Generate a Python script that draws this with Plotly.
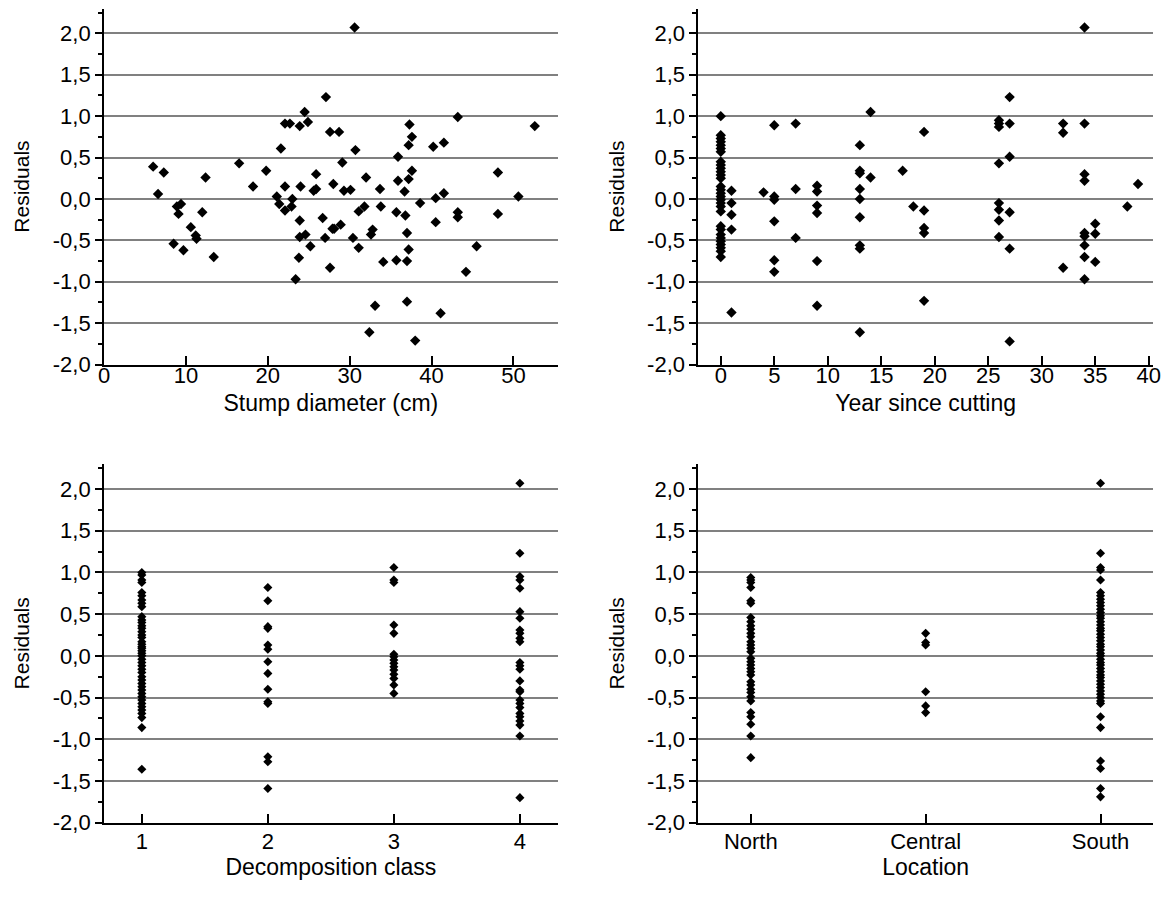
import plotly.graph_objects as go

# ---------------- data ----------------
diam_x = [6.0, 7.3, 6.6, 12.4, 16.5, 18.2, 19.8, 21.1, 21.6, 22.1, 22.7, 22.1, 23.0, 23.9, 24.0,
          24.5, 24.9, 25.6, 25.9, 25.9, 27.1, 27.6, 28.0, 30.6, 28.7, 30.7, 29.1, 29.3, 30.1, 32.0,
          33.7, 35.9, 37.3, 37.6, 37.2, 35.9, 37.2, 37.6, 36.7, 40.2, 41.5, 43.2, 41.5, 40.5, 48.1,
          50.6, 52.6, 8.9, 9.4, 9.1, 12.0, 10.6, 11.2, 11.3, 8.5, 9.7, 13.4, 21.4, 22.1, 22.9,
          23.9, 23.9, 24.6, 25.2, 26.7, 27.0, 23.8, 23.4, 27.6, 27.9, 38.6, 31.1, 31.8, 33.8, 35.7,
          36.8, 40.5, 43.2, 43.2, 48.1, 28.1, 28.9, 30.4, 32.8, 32.6, 37.0, 31.1, 37.2, 45.5, 34.1,
          35.7, 37.0, 44.2, 33.1, 37.0, 41.1, 32.4, 38.0]
diam_res = [0.39, 0.32, 0.06, 0.26, 0.43, 0.15, 0.34, 0.03, 0.61, 0.91, 0.91, 0.15, 0.00, 0.88, 0.15,
            1.05, 0.93, 0.10, 0.12, 0.30, 1.23, 0.81, 0.18, 2.07, 0.81, 0.59, 0.44, 0.10, 0.11, 0.26,
            0.12, 0.51, 0.90, 0.75, 0.65, 0.22, 0.24, 0.34, 0.09, 0.63, 0.68, 0.99, 0.07, 0.01, 0.32,
            0.03, 0.88, -0.09, -0.06, -0.18, -0.16, -0.34, -0.44, -0.48, -0.54, -0.62, -0.70, -0.06, -0.14, -0.09,
            -0.26, -0.46, -0.43, -0.57, -0.23, -0.47, -0.71, -0.97, -0.83, -0.36, -0.05, -0.15, -0.09, -0.09, -0.16,
            -0.20, -0.28, -0.16, -0.22, -0.18, -0.36, -0.31, -0.47, -0.37, -0.43, -0.41, -0.59, -0.61, -0.57, -0.76,
            -0.74, -0.75, -0.88, -1.29, -1.24, -1.38, -1.61, -1.71]

year_x = ([0] * 30 + [1] * 5 + [4] + [5] * 6 + [7] * 3 + [9] * 6 + [13] * 9 + [14] * 2 + [17] + [18]
          + [19] * 5 + [26] * 8 + [27] * 6 + [32] * 3 + [34] * 9 + [35] * 3 + [38] + [39])
year_res = [1.00, 0.77, 0.73, 0.69, 0.65, 0.61, 0.57, 0.45, 0.41, 0.37, 0.33, 0.29, 0.25, 0.15, 0.11,
            0.07, 0.03, -0.01, -0.05, -0.09, -0.15, -0.33, -0.37, -0.43, -0.47, -0.51, -0.55, -0.59, -0.63, -0.70,
            0.10, -0.05, -0.19, -0.37, -1.37,
            0.08,
            0.89, 0.03, -0.01, -0.27, -0.74, -0.88,
            0.91, 0.12, -0.47,
            0.16, 0.09, -0.08, -0.17, -0.75, -1.29,
            0.65, 0.34, 0.31, 0.12, 0.00, -0.22, -0.56, -0.60, -1.61,
            1.05, 0.26,
            0.34,
            -0.09,
            0.81, -0.14, -0.35, -0.41, -1.23,
            0.95, 0.91, 0.87, 0.43, -0.05, -0.13, -0.26, -0.46,
            1.23, 0.91, 0.51, -0.16, -0.60, -1.72,
            0.91, 0.80, -0.83,
            2.07, 0.91, 0.30, 0.22, -0.41, -0.45, -0.56, -0.70, -0.97,
            -0.30, -0.42, -0.76,
            -0.09,
            0.18]

class1_res = [1.00, 0.97, 0.91, 0.88, 0.76, 0.72, 0.67, 0.63, 0.59, 0.47, 0.43, 0.40, 0.36, 0.33, 0.29,
              0.25, 0.22, 0.17, 0.14, 0.11, 0.09, 0.06, 0.03, 0.00, -0.04, -0.08, -0.12, -0.16, -0.20, -0.25,
              -0.29, -0.33, -0.37, -0.41, -0.45, -0.49, -0.53, -0.57, -0.61, -0.65, -0.69, -0.74, -0.86, -1.36]
class2_res = [0.82, 0.66, 0.35, 0.33, 0.13, 0.08, -0.07, -0.21, -0.40, -0.55, -0.57, -1.21, -1.27, -1.59]
class3_res = [1.06, 0.91, 0.88, 0.37, 0.27, 0.02, -0.01, -0.05, -0.09, -0.13, -0.17, -0.22, -0.27, -0.35, -0.45]
class4_res = [2.07, 1.23, 0.95, 0.91, 0.81, 0.53, 0.45, 0.31, 0.27, 0.21, 0.17, -0.08, -0.12, -0.16, -0.30,
              -0.41, -0.43, -0.53, -0.57, -0.62, -0.69, -0.73, -0.78, -0.83, -0.96, -1.70]
classes = [1, 2, 3, 4]

north_res = [0.94, 0.91, 0.88, 0.82, 0.66, 0.63, 0.46, 0.41, 0.36, 0.32, 0.27, 0.23, 0.17, 0.13, 0.09,
             0.05, -0.03, -0.07, -0.11, -0.15, -0.19, -0.23, -0.31, -0.35, -0.40, -0.44, -0.49, -0.54, -0.68, -0.73,
             -0.82, -0.96, -1.22]
central_res = [0.27, 0.16, 0.13, -0.43, -0.60, -0.68]
south_res = [2.07, 1.23, 1.06, 1.03, 0.91, 0.76, 0.72, 0.68, 0.64, 0.60, 0.56, 0.52, 0.48, 0.45, 0.41,
             0.37, 0.33, 0.30, 0.26, 0.22, 0.18, 0.14, 0.11, 0.07, 0.03, 0.00, -0.04, -0.08, -0.11, -0.15,
             -0.19, -0.23, -0.26, -0.30, -0.34, -0.38, -0.42, -0.46, -0.50, -0.54, -0.57, -0.73, -0.86, -1.26, -1.35,
             -1.59, -1.69]
locations = ["North", "Central", "South"]

y_ticks = [-2.0, -1.5, -1.0, -0.5, 0.0, 0.5, 1.0, 1.5, 2.0]
y_ticktext = ["-2,0", "-1,5", "-1,0", "-0,5", "0,0", "0,5", "1,0", "1,5", "2,0"]

# ---------------- figure ----------------
OFF = 8  # default page body margin
W, H = 1170 - OFF, 901 - OFF
FONT = "Liberation Sans, Arial, sans-serif"


def px_x(p):
    return (p - OFF) / W


def px_y(p):
    return 1 - (p - OFF) / H


fig = go.Figure()

mk_top = dict(symbol="diamond", size=8, color="black")
mk_bot = dict(symbol="diamond", size=7, color="black")

fig.add_trace(go.Scatter(x=diam_x, y=diam_res, mode="markers", marker=mk_top,
                         xaxis="x", yaxis="y", showlegend=False))
fig.add_trace(go.Scatter(x=year_x, y=year_res, mode="markers", marker=mk_top,
                         xaxis="x2", yaxis="y2", showlegend=False))
cls_x = []
cls_y = []
for c, vals in zip(classes, [class1_res, class2_res, class3_res, class4_res]):
    cls_x += [c] * len(vals)
    cls_y += vals
fig.add_trace(go.Scatter(x=cls_x, y=cls_y, mode="markers", marker=mk_bot,
                         xaxis="x3", yaxis="y3", showlegend=False))
loc_x = []
loc_y = []
for loc, vals in zip(locations, [north_res, central_res, south_res]):
    loc_x += [loc] * len(vals)
    loc_y += vals
fig.add_trace(go.Scatter(x=loc_x, y=loc_y, mode="markers", marker=mk_bot,
                         xaxis="x4", yaxis="y4", showlegend=False))

left_dom = [px_x(104.0), px_x(557.7)]
right_dom = [px_x(698.3), px_x(1153.0)]
top_dom = [px_y(364.6), px_y(8.5)]
bot_dom = [px_y(822.7), px_y(464.0)]

tick_font = dict(family=FONT, size=22, color="black")
ytitle_font = dict(family=FONT, size=21, color="black")
xtitle_font = dict(family=FONT, size=23, color="black")


def yax(dom, anchor):
    return dict(domain=dom, anchor=anchor, range=[-2.0, 2.3], tickvals=y_ticks, ticktext=y_ticktext,
                ticks="outside", ticklen=7, tickwidth=1.5, tickcolor="black", ticklabelstandoff=0,
                minor=dict(ticks="outside", ticklen=4, tickwidth=1.5, tickcolor="black", dtick=0.25,
                           tick0=0, showgrid=False),
                showline=True, linecolor="black", linewidth=1.8, showgrid=True,
                gridcolor="#808080", gridwidth=1.5, zeroline=False, tickfont=tick_font,
                title=dict(text="Residuals", font=ytitle_font, standoff=17), automargin=False)


def xax(dom, anchor, title, lab_off, t_off, **kw):
    d = dict(domain=dom, anchor=anchor, ticks="inside", ticklen=9, tickwidth=1.5, tickcolor="black",
             ticklabelstandoff=lab_off,
             showline=True, linecolor="black", linewidth=1.8, showgrid=False, zeroline=False,
             tickfont=tick_font, title=dict(text=title, font=xtitle_font, standoff=t_off),
             automargin=False)
    d.update(kw)
    return d


fig.update_layout(
    width=W, height=H,
    margin=dict(l=0, r=0, t=0, b=0),
    paper_bgcolor="white", plot_bgcolor="white",
    font=dict(family=FONT, color="black"),
    xaxis=xax(left_dom, "y", "Stump diameter (cm)", -10, 8, range=[0, 55.4],
              tickvals=[0, 10, 20, 30, 40, 50]),
    yaxis=yax(top_dom, "x"),
    xaxis2=xax(right_dom, "y2", "Year since cutting", -10, 8, range=[-2.1, 40.4],
               tickvals=[0, 5, 10, 15, 20, 25, 30, 35, 40]),
    yaxis2=yax(top_dom, "x2"),
    xaxis3=xax(left_dom, "y3", "Decomposition class", -2, 0, range=[0.7, 4.3], tickvals=classes),
    yaxis3=yax(bot_dom, "x3"),
    xaxis4=xax(right_dom, "y4", "Location", -2, 0, type="category", range=[-0.3, 2.3],
               categoryorder="array", categoryarray=locations),
    yaxis4=yax(bot_dom, "x4"),
)

fig.write_html("out.html")
